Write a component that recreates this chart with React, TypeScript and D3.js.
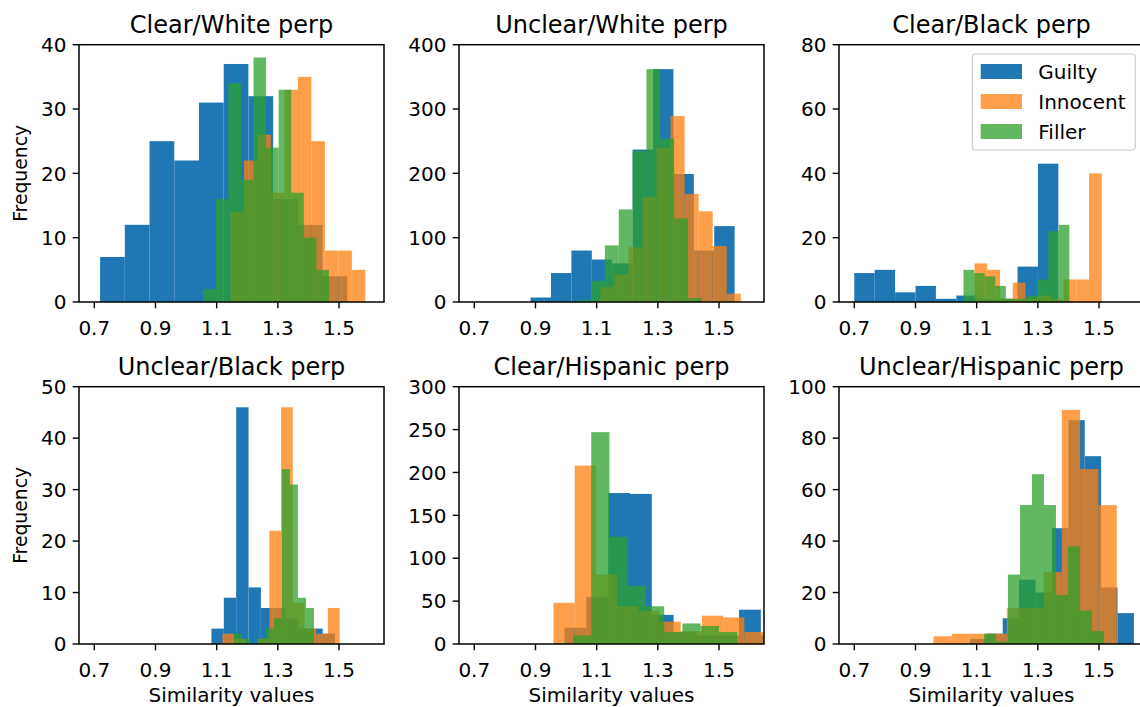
import React from 'react';
import * as d3 from 'd3';

const titles = [
  'Clear/White perp',
  'Unclear/White perp',
  'Clear/Black perp',
  'Unclear/Black perp',
  'Clear/Hispanic perp',
  'Unclear/Hispanic perp',
];
const seriesNames = ['Guilty', 'Innocent', 'Filler'];
const xTicks = [0.7, 0.9, 1.1, 1.3, 1.5];
const yTickSets = [
  [0, 10, 20, 30, 40],
  [0, 100, 200, 300, 400],
  [0, 20, 40, 60, 80],
  [0, 10, 20, 30, 40, 50],
  [0, 50, 100, 150, 200, 250, 300],
  [0, 20, 40, 60, 80, 100],
];

// [min, max] of each histogram (Guilty, Innocent, Filler), 10 bins each
const clearWhiteRanges = [[0.719, 1.527], [1.145, 1.586], [1.056, 1.467]];
const clearWhiteCounts = [
  [7, 12, 25, 22, 31, 37, 32, 16, 12, 4],
  [14, 22, 26, 17, 33, 35, 25, 8, 8, 5],
  [2, 16, 34, 19, 38, 24, 33, 17, 10, 5],
];

const unclearWhiteRanges = [[0.884, 1.551], [1.112, 1.571], [0.991, 1.444]];
const unclearWhiteCounts = [
  [7, 45, 80, 66, 60, 237, 362, 199, 80, 118],
  [23, 43, 85, 163, 240, 289, 168, 141, 87, 13],
  [1, 3, 33, 88, 144, 235, 362, 254, 130, 6],
];

const clearBlackRanges = [[0.7, 1.367], [1.093, 1.509], [1.057, 1.403]];
const clearBlackCounts = [
  [9, 10, 3, 5, 1, 2, 1, 1, 11, 43],
  [12, 10, 1, 6, 1, 2, 1, 7, 7, 40],
  [10, 9, 8, 5, 1, 1, 2, 7, 22, 24],
];

const unclearBlackRanges = [[1.083, 1.487], [1.119, 1.502], [1.156, 1.418]];
const unclearBlackCounts = [
  [3, 9, 46, 11, 7, 7, 5, 3, 3, 2],
  [2, 1, 0, 1, 22, 46, 8, 3, 2, 7],
  [2, 1, 0, 1, 3, 5, 34, 31, 9, 7],
];

const clearHispanicRanges = [[0.995, 1.708], [0.959, 1.652], [0.963, 1.559]];
const clearHispanicCounts = [
  [19, 55, 176, 175, 34, 14, 10, 10, 40, 10],
  [48, 208, 81, 44, 39, 26, 15, 33, 31, 14],
  [1, 10, 247, 125, 68, 44, 14, 24, 21, 14],
];

const unclearHispanicRanges = [[1.078, 1.614], [0.959, 1.558], [1.124, 1.516]];
const unclearHispanicCounts = [
  [2, 4, 10, 25, 20, 45, 87, 73, 22, 12],
  [3, 4, 4, 4, 14, 14, 28, 91, 68, 54],
  [4, 1, 27, 54, 66, 54, 19, 38, 13, 5],
];

const panelRanges = [
  clearWhiteRanges, unclearWhiteRanges, clearBlackRanges,
  unclearBlackRanges, clearHispanicRanges, unclearHispanicRanges,
];
const panelCounts = [
  clearWhiteCounts, unclearWhiteCounts, clearBlackCounts,
  unclearBlackCounts, clearHispanicCounts, unclearHispanicCounts,
];

const colors = ['#1f77b4', '#ff7f0e', '#2ca02c'];
const alphas = [1, 0.75, 0.75];

const W = 1140;
const H = 707;
const colLeft = [79, 459, 839];
const rowTop = [44.7, 386.7];
const axW = 305;
const axH = 257.3;
const font = 'DejaVu Sans, sans-serif';
const fs = 20;

function Panel({ idx }: { idx: number }) {
  const col = idx % 3;
  const row = Math.floor(idx / 3);
  const x0 = colLeft[col];
  const y0 = rowTop[row];
  const yTicks = yTickSets[idx];
  const x = d3.scaleLinear().domain([0.65, 1.647]).range([x0, x0 + axW]);
  const y = d3.scaleLinear().domain([0, yTicks[yTicks.length - 1]]).range([y0 + axH, y0]);
  const bottom = y0 + axH;
  const clipId = `clip${idx}`;

  return (
    <g>
      <clipPath id={clipId}>
        <rect x={x0} y={y0} width={axW} height={axH} />
      </clipPath>
      <g clipPath={`url(#${clipId})`}>
        {panelCounts[idx].map((counts, s) => {
          const [lo, hi] = panelRanges[idx][s];
          const step = (hi - lo) / counts.length;
          return (
            <g key={s} fill={colors[s]} fillOpacity={alphas[s]}>
              {counts.map((c, i) =>
                c > 0 ? (
                  <rect
                    key={i}
                    x={x(lo + i * step)}
                    width={x(lo + (i + 1) * step) - x(lo + i * step)}
                    y={y(c)}
                    height={y(0) - y(c)}
                  />
                ) : null
              )}
            </g>
          );
        })}
      </g>
      {/* ticks */}
      {xTicks.map((t) => (
        <g key={t}>
          <line x1={x(t)} x2={x(t)} y1={bottom} y2={bottom + 6.3} stroke="#000" strokeWidth={1.4} />
          <text x={x(t)} y={bottom + 32.5} textAnchor="middle" fontSize={fs} fontFamily={font}>
            {t.toFixed(1)}
          </text>
        </g>
      ))}
      {yTicks.map((t) => (
        <g key={t}>
          <line x1={x0 - 6.3} x2={x0} y1={y(t)} y2={y(t)} stroke="#000" strokeWidth={1.4} />
          <text x={x0 - 12.5} y={y(t)} dy="0.36em" textAnchor="end" fontSize={fs} fontFamily={font}>
            {t}
          </text>
        </g>
      ))}
      <rect x={x0} y={y0} width={axW} height={axH} fill="none" stroke="#000" strokeWidth={1.5} />
      <text x={x0 + axW / 2} y={y0 - 11.4} textAnchor="middle" fontSize={24} fontFamily={font}>
        {titles[idx]}
      </text>
      {col === 0 && (
        <text
          transform={`translate(26.8,${y0 + axH / 2}) rotate(-90)`}
          textAnchor="middle"
          fontSize={18.8}
          fontFamily={font}
        >
          Frequency
        </text>
      )}
      {row === 1 && (
        <text x={x0 + axW / 2} y={bottom + 57.6} textAnchor="middle" fontSize={fs} fontFamily={font}>
          Similarity values
        </text>
      )}
      {idx === 2 && (
        <g>
          <rect x={972.3} y={54} width={163} height={96} rx={3.5} fill="#fff" fillOpacity={0.8} stroke="#cccccc" strokeWidth={1.2} />
          {seriesNames.map((name, s) => (
            <g key={name}>
              <rect x={980.7} y={64 + s * 30} width={41.3} height={15} fill={colors[s]} fillOpacity={alphas[s]} />
              <text x={1038.3} y={71.5 + s * 30} dy="0.36em" fontSize={fs} fontFamily={font}>
                {name}
              </text>
            </g>
          ))}
        </g>
      )}
    </g>
  );
}

export default function App() {
  return (
    <svg
      width={W}
      height={H}
      style={{ position: 'absolute', left: 0, top: 0, background: '#fff' }}
    >
      <rect width={W} height={H} fill="#fff" />
      {d3.range(6).map((i) => (
        <Panel key={i} idx={i} />
      ))}
    </svg>
  );
}
